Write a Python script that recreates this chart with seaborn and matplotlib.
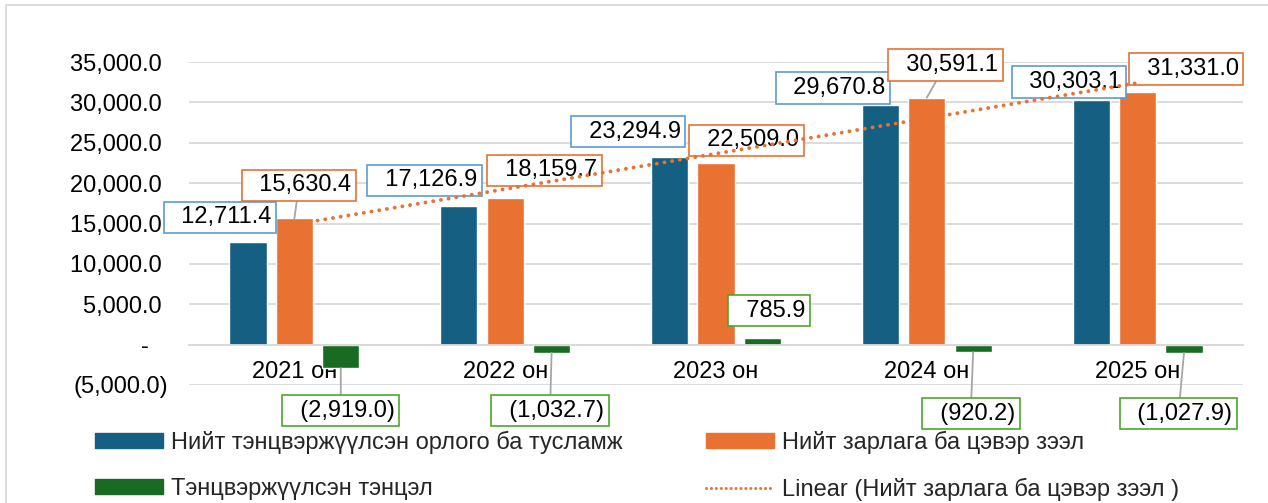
import numpy as np
import pandas as pd
import seaborn as sns
import matplotlib.pyplot as plt
from matplotlib.patches import Patch, Rectangle
from matplotlib.lines import Line2D

years = ["2021 он", "2022 он", "2023 он", "2024 он", "2025 он"]
revenue = [12711.4, 17126.9, 23294.9, 29670.8, 30303.1]
spending = [15630.4, 18159.7, 22509.0, 30591.1, 31331.0]
balance = [-2919.0, -1032.7, 785.9, -920.2, -1027.9]

series_names = ["Нийт тэнцвэржүүлсэн орлого ба тусламж",
                "Нийт зарлага ба цэвэр зээл",
                "Тэнцвэржүүлсэн тэнцэл"]
trend_name = "Linear (Нийт зарлага ба цэвэр зээл )"

bar_colors = ["#156082", "#E97132", "#196B24"]
box_colors = ["#5B9BD5", "#E97132", "#4EA72E"]
grid_color = "#D9D9D9"

# data label offsets (pixels from the bar end), placed by hand like the excel chart
label_offsets = [
    [(-28, 24.5), (-34.5, 26), (-41.5, 25), (-47.5, 17), (-22.5, 17.8)],
    [(4.5, 33), (39.5, 27.6), (30.5, 22.6), (18.5, 32.4), (48.5, 22.5)],
    [(0, -42.5), (-1.5, -57.7), (6.5, 27.7), (-2.5, -61.6), (-5.5, -60.7)],
]

df = pd.DataFrame({
    "year": years * 3,
    "series": [n for n in series_names for _ in years],
    "value": revenue + spending + balance,
})

sns.set_theme(style="white")
plt.rcParams["font.family"] = ["Liberation Sans", "DejaVu Sans"]

W, H = 1268, 503
fig = plt.figure(figsize=(W / 100, H / 100), dpi=100)
ax = fig.add_axes([189 / W, 118 / H, (1243 - 189) / W, (441 - 118) / H])

sns.barplot(data=df, x="year", y="value", hue="series", palette=bar_colors,
            width=0.66, gap=0.2, errorbar=None, saturation=1, legend=False, ax=ax)


def acct(v, pos=None):
    if v == 0:
        return "-   "
    if v < 0:
        return f"({abs(v):,.1f})"
    return f"{v:,.1f} "


ax.yaxis.set_major_formatter(plt.FuncFormatter(acct))
ax.tick_params(axis="y", length=0, pad=15, labelsize=17, labelcolor="black")
ax.tick_params(axis="x", length=0, pad=12, labelsize=17, labelcolor="black")
ax.set_xlabel("")
ax.set_ylabel("")
for s in ["left", "right", "top"]:
    ax.spines[s].set_visible(False)
ax.spines["bottom"].set_position(("data", 0))
ax.spines["bottom"].set_color(grid_color)
ax.spines["bottom"].set_linewidth(1.3)
ax.yaxis.grid(True, color=grid_color, lw=1.3)
ax.set_axisbelow(True)

all_vals = [revenue, spending, balance]
for j, cont in enumerate(ax.containers):
    for i, p in enumerate(cont.patches):
        v = all_vals[j][i]
        x = p.get_x() + p.get_width() / 2
        dx, dy = label_offsets[j][i]
        txt = f"{v:,.1f}" if v >= 0 else f"({abs(v):,.1f})"
        arrow = None
        if abs(dy) > 30:
            arrow = dict(arrowstyle="-", color="#A6A6A6", lw=1.3, shrinkA=0, shrinkB=0)
        ax.annotate("  " + txt, xy=(x, v), xytext=(dx, dy), textcoords="offset pixels",
                    ha="center", va="center", fontsize=17, color="black",
                    bbox=dict(boxstyle="square,pad=0.2", fc="white", ec=box_colors[j], lw=1.2),
                    arrowprops=arrow, zorder=4, annotation_clip=False)

# linear trend of spending
xs = [p.get_x() + p.get_width() / 2 for p in ax.containers[1].patches]
t = np.arange(1, len(spending) + 1)
coef = np.polyfit(t, spending, 1)
ax.plot(xs, np.polyval(coef, t), color=bar_colors[1], lw=2.8,
        linestyle=(0, (0.01, 2.0)), dash_capstyle="round", zorder=5)

ax.set_xlim(-0.5, len(years) - 0.5)
ax.set_ylim(-5000, 35000)
ax.set_yticks(np.arange(-5000, 35001, 5000))

leg_kw = dict(loc="upper left", frameon=False, fontsize=17, handlelength=2.9,
              handleheight=0.6, handletextpad=0.3, labelspacing=1.02,
              borderpad=0, borderaxespad=0)
fig.legend(handles=[Patch(color=bar_colors[0]), Patch(color=bar_colors[2])],
           labels=[series_names[0], series_names[2]],
           bbox_to_anchor=(95 / W, 1 - 431 / H), **leg_kw)
fig.legend(handles=[Patch(color=bar_colors[1]),
                    Line2D([], [], color=bar_colors[1], lw=2.2,
                           linestyle=(0, (0.01, 1.6)), dash_capstyle="round")],
           labels=[series_names[1], trend_name],
           bbox_to_anchor=(706 / W, 1 - 431 / H), **leg_kw)

# chart area border
fig.patches.append(Rectangle((6 / W, -0.1), 1.2, 1.1 - 5 / H, transform=fig.transFigure,
                             fill=False, ec=grid_color, lw=1.3))

fig.savefig("out.png", dpi=100)
